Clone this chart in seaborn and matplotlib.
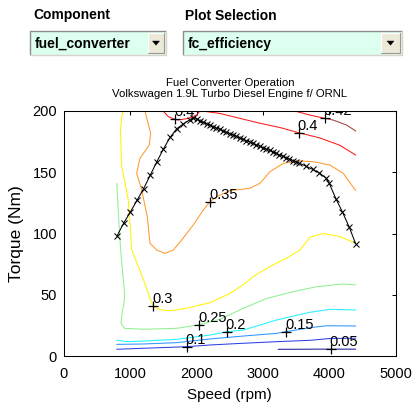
import matplotlib
matplotlib.use("Agg")
import matplotlib.pyplot as plt
import pandas as pd
import seaborn as sns
from matplotlib.patches import Rectangle, Polygon

# ---------------------------------------------------------------------------
# Engine data: Volkswagen 1.9L Turbo Diesel (ORNL)
# ---------------------------------------------------------------------------
component_choice = "fuel_converter"
plot_choice = "fc_efficiency"
title_lines = ["Fuel Converter Operation", "Volkswagen 1.9L Turbo Diesel Engine f/ ORNL"]

x_ticks = [0, 1000, 2000, 3000, 4000, 5000]
y_ticks = [0, 50, 100, 150, 200]

# maximum torque curve
max_speed = [800, 900, 1000, 1100, 1200, 1300, 1400, 1500, 1600, 1700, 1800, 1900, 1950,
             2000, 2050, 2100, 2150, 2200, 2250, 2300, 2350, 2400, 2450, 2500, 2550,
             2600, 2650, 2700, 2750, 2800, 2850, 2900, 2950, 3000, 3050, 3100, 3150,
             3200, 3250, 3300, 3350, 3400, 3450, 3500,
             3550, 3650, 3750, 3850, 3950, 4000, 4100, 4200, 4300, 4400]
max_torque = [98, 108.5, 117.5, 127, 136.5, 147.5, 158.5, 169, 178.5, 185.5, 189.5, 193, 194.5,
              193.2, 192.0, 190.8, 189.6, 188.4, 187.3, 186.1, 185.0, 183.8, 182.6, 181.5, 180.4,
              179.2, 178.0, 176.9, 175.8, 174.7, 173.6, 172.4, 171.2, 170.1, 168.9, 167.8, 166.6,
              165.4, 164.2, 163.0, 161.8, 160.7, 159.5, 158.4,
              157.3, 155.0, 152.3, 149.5, 145.3, 141.0, 128.5, 117.5, 105.5, 91.5]

# efficiency iso-lines (speed in rpm, torque in Nm)
eff_005_speed = [3230, 3500, 3800, 4050, 4400]
eff_005_torque = [5.5, 5.5, 5.6, 5.6, 5.6]

eff_010_speed = [795, 1196, 1500, 1850, 2202, 2704, 3208, 3710, 4011, 4400]
eff_010_torque = [5.5, 6.3, 6.9, 7.6, 9.0, 10.4, 11.7, 12.8, 14.3, 14.5]

eff_015_speed = [795, 1196, 1700, 2202, 2704, 3208, 3352, 3710, 3961, 4400]
eff_015_torque = [9.5, 9.8, 10.9, 13.9, 16.3, 18.5, 19.9, 23.1, 24.7, 24.5]

eff_020_speed = [795, 945, 1196, 1700, 2202, 2454, 2704, 3208, 3710, 4011, 4400]
eff_020_torque = [13.0, 11.7, 12.2, 13.6, 17.1, 19.8, 21.2, 29.4, 35.7, 38.1, 37.6]

eff_025_speed = [795, 815, 835, 850, 870, 895, 915, 905, 875, 860, 910, 1200, 1700,
                 2040, 2352, 2704, 3057, 3458, 3811, 4212, 4400]
eff_025_torque = [141, 122, 103, 90, 77, 62, 50, 43, 35, 27, 22.6, 21.8, 22.6,
                  25.5, 30, 38.9, 47, 52.5, 56.6, 58.8, 58]

eff_030_speed = [886, 850, 870, 970, 1021, 1120, 1221, 1290, 1347, 1473, 1620, 1850, 2200,
                 2500, 2700, 2855, 3106, 3358, 3559, 3710, 3910, 4162, 4400]
eff_030_torque = [200, 185, 155, 127, 87, 73, 59, 48, 40.5, 37.5, 37, 39, 43.5,
                  51, 58, 65, 73, 80, 86.5, 97, 100, 97.5, 92]

eff_035_speed = [1221, 1307, 1286, 1146, 1096, 1172, 1256, 1297, 1398, 1523, 1648, 1775,
                 1950, 2101, 2202, 2303, 2503, 2805, 2956, 3106, 3307, 3559, 3759, 4011,
                 4212, 4400]
eff_035_torque = [200, 181.8, 172.2, 161.4, 149.1, 135.5, 113.7, 92, 86.5, 83.8, 86.5, 94.7,
                  107, 119.2, 126, 130, 135, 136.9, 141, 150.4, 157.3, 159.2, 158.6, 155.9,
                  149.1, 135]

eff_040a_speed = [1497, 1573, 1674, 1724, 1874, 2001, 2051]
eff_040a_torque = [200, 195.4, 193.2, 192.6, 194, 196.7, 200]

eff_040b_speed = [2080, 2352, 2654, 2956, 3257, 3544, 3860, 4162, 4400]
eff_040b_torque = [200, 198, 194, 190, 186.5, 182.2, 178, 172, 164]

eff_040c_speed = [3480, 3700, 3936]
eff_040c_torque = [200, 196.8, 194.0]

eff_042_speed = [3936, 4060, 4260, 4400]
eff_042_torque = [194.0, 192.6, 188.6, 183.7]

# inline contour labels
label_text = ["0.05", "0.1", "0.15", "0.2", "0.25", "0.3", "0.35", "0.4", "0.4", "0.42"]
label_speed = [4022, 1850, 3352, 2454, 2040, 1347, 2202, 3544, 1674, 3936]
label_torque = [5.6, 7.6, 19.9, 19.8, 25.5, 40.5, 126, 182.2, 193.2, 194.0]

level_colors = {
    "0.05": "#1c1c96",
    "0.1": "#2f3fe8",
    "0.15": "#2f96ff",
    "0.2": "#20f4ff",
    "0.25": "#90f090",
    "0.3": "#fff200",
    "0.35": "#ff9a2e",
    "0.4": "#ff1a1a",
    "0.42": "#a5403c",
}

segments = [
    ("0.05", eff_005_speed, eff_005_torque),
    ("0.1", eff_010_speed, eff_010_torque),
    ("0.15", eff_015_speed, eff_015_torque),
    ("0.2", eff_020_speed, eff_020_torque),
    ("0.25", eff_025_speed, eff_025_torque),
    ("0.3", eff_030_speed, eff_030_torque),
    ("0.35", eff_035_speed, eff_035_torque),
    ("0.4", eff_040a_speed, eff_040a_torque),
    ("0.4", eff_040b_speed, eff_040b_torque),
    ("0.4", eff_040c_speed, eff_040c_torque),
    ("0.42", eff_042_speed, eff_042_torque),
]

rows = []
for seg_id, (lev, sp, tq) in enumerate(segments):
    for s, t in zip(sp, tq):
        rows.append({"seg": seg_id, "level": lev, "speed": s, "torque": t})
contours = pd.DataFrame(rows)

# ---------------------------------------------------------------------------
# Style
# ---------------------------------------------------------------------------
sns.set_theme(style="white")
plt.rcParams.update({
    "font.family": ["Liberation Sans", "DejaVu Sans"],
    "axes.edgecolor": "black",
    "axes.linewidth": 0.75,
    "text.color": "black",
    "axes.labelcolor": "black",
    "xtick.color": "black",
    "ytick.color": "black",
})

W, H = 413, 409
fig = plt.figure(figsize=(W / 100, H / 100), dpi=100)
fig.patch.set_facecolor("white")

# ---------------------------------------------------------------------------
# Selector widgets along the top (pixel coordinates)
# ---------------------------------------------------------------------------
ui = fig.add_axes([0, 0, 1, 1], zorder=-1)
ui.set_xlim(0, W)
ui.set_ylim(H, 0)
ui.axis("off")

ui.text(33, 19.5, "Component", fontsize=10, fontweight="bold", va="baseline", ha="left")
ui.text(185, 19.5, "Plot Selection", fontsize=10, fontweight="bold", va="baseline", ha="left")


def dropdown(x0, x1, y0, y1, btn_x0, text):
    ui.add_patch(Rectangle((x0, y0), x1 - x0, y1 - y0, facecolor="#dcfff0",
                           edgecolor="none"))
    ui.plot([x0, x0, x1], [y1, y0, y0], color="#8c8c8c", lw=1.0, solid_capstyle="butt")
    ui.plot([x0, x1, x1], [y1, y1, y0], color="#d8d4cc", lw=1.0, solid_capstyle="butt")
    bx1 = x1 - 2
    by0, by1 = y0 + 2, y1 - 2
    ui.add_patch(Rectangle((btn_x0, by0), bx1 - btn_x0, by1 - by0, facecolor="#ece9d8",
                           edgecolor="none"))
    ui.plot([btn_x0, btn_x0, bx1], [by1, by0, by0], color="#ffffff", lw=0.8)
    ui.plot([btn_x0, bx1, bx1], [by1, by1, by0], color="#9a9890", lw=0.8)
    cx, cy = (btn_x0 + bx1) / 2, (by0 + by1) / 2
    ui.add_patch(Polygon([[cx - 3.5, cy - 2], [cx + 3.5, cy - 2], [cx, cy + 2.2]],
                         closed=True, facecolor="black", edgecolor="black", lw=0.3))
    ui.text(x0 + 5, 48, text, fontsize=10, fontweight="bold", va="baseline", ha="left")


dropdown(30, 166, 31, 55, 148, component_choice)
dropdown(183, 402, 31, 55, 381, plot_choice)

# ---------------------------------------------------------------------------
# Efficiency map
# ---------------------------------------------------------------------------
ax_l, ax_r, ax_t, ax_b = 64, 395.5, 111, 356
ax = fig.add_axes([ax_l / W, 1 - ax_b / H, (ax_r - ax_l) / W, (ax_b - ax_t) / H])
ax.set_facecolor("white")

sns.lineplot(data=contours, x="speed", y="torque", hue="level", units="seg",
             estimator=None, sort=False, palette=level_colors, lw=0.75,
             legend=False, ax=ax)

sns.lineplot(x=max_speed, y=max_torque, sort=False, color="black", lw=0.75,
             marker="x", markersize=4.5, markeredgewidth=0.75,
             markeredgecolor="black", ax=ax)

for txt, sp, tq in zip(label_text, label_speed, label_torque):
    ax.plot(sp, tq, marker="+", color="black", markersize=7, markeredgewidth=0.9,
            linestyle="none")
    ax.annotate(txt, (sp, tq), xytext=(-0.8, 2.2), textcoords="offset points",
                ha="left", va="baseline", fontsize=10.5, color="black",
                clip_on=True)

ax.set_xlim(0, 5000)
ax.set_ylim(0, 200)
ax.set_xticks(x_ticks)
ax.set_yticks(y_ticks)
ax.set_xticklabels([str(v) for v in x_ticks])
ax.set_yticklabels([str(v) for v in y_ticks])
ax.tick_params(axis="both", which="both", direction="in", length=3, width=0.75,
               top=True, right=True, labelsize=10.5)
ax.tick_params(axis="x", pad=8)
ax.tick_params(axis="y", pad=5)
for sp_ in ax.spines.values():
    sp_.set_visible(True)
    sp_.set_color("black")
    sp_.set_linewidth(0.75)

ax.set_xlabel("Speed (rpm)", fontsize=11, labelpad=5)
ax.set_ylabel("Torque (Nm)", fontsize=12.5, labelpad=6)
ax.set_title("\n".join(title_lines), fontsize=8.2, pad=10, linespacing=1.2)

fig.savefig("out.png", dpi=100, facecolor="white")
